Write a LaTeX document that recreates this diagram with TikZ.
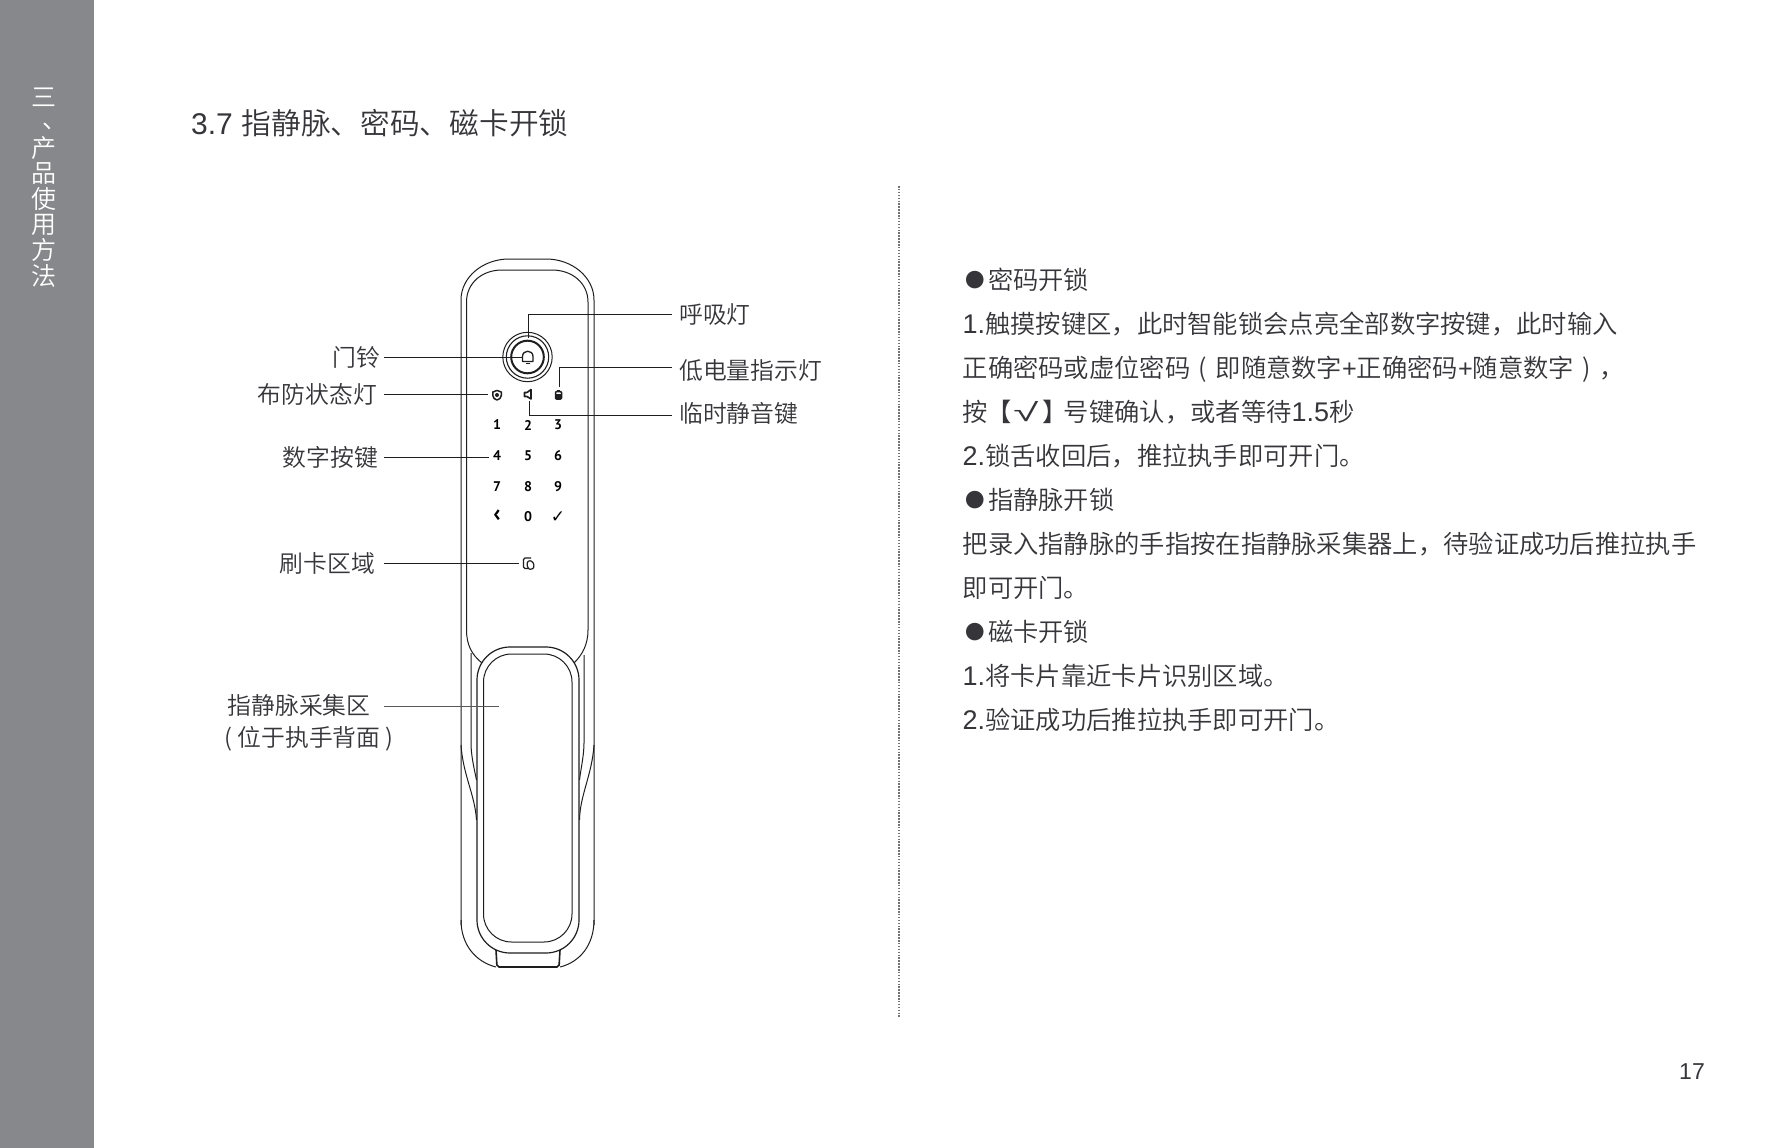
\documentclass[tikz,border=0pt]{standalone}
\usepackage{fontspec}
\setmainfont{Liberation Sans}
\newfontfamily\cjk{Noto Sans CJK SC DemiLight}
\newfontfamily\latn{Liberation Sans}
\newfontfamily\digitfont{PT Sans}
\newfontfamily\symfont{DejaVu Sans}
\newcommand{\la}[1]{{\latn\fontsize{27}{30}\selectfont #1}}
\newcommand{\bul}{\makebox[25.3pt][c]{\raisebox{2.4pt}{\fontsize{19.5}{20}\selectfont ●}}}
\newcommand{\lpar}{\makebox[25.3pt][c]{(}}
\newcommand{\rpar}{\makebox[25.3pt][c]{)}}
\definecolor{ink}{HTML}{36363A}
\definecolor{side}{HTML}{87888B}
\definecolor{linec}{HTML}{1E1E20}
\tikzset{
  lbl/.style={font=\cjk\fontsize{23.8}{28}\selectfont,text=ink,inner sep=0pt,text height=21pt,text depth=2.9pt},
  bodytxt/.style={font=\cjk\fontsize{25.3}{30}\selectfont,text=ink,inner sep=0pt,anchor=west,text height=22.3pt,text depth=3pt},
  lead/.style={draw=linec,line width=0.9pt},
  shell/.style={draw=linec,line width=1pt},
  digitk/.style={font=\digitfont\bfseries\fontsize{14}{15}\selectfont,text=black,inner sep=0pt},
  icon/.style={draw=linec,line width=1.3pt,line join=round}
}
\begin{document}
\begin{tikzpicture}[x=1pt,y=-1pt]
\useasboundingbox (0,0) rectangle (1785,1148);
\fill[white] (0,0) rectangle (1785,1148);
\fill[side] (0,0) rectangle (93.5,1148);
% sidebar
\node[font=\cjk\fontsize{25}{22}\selectfont,text=white,inner sep=0pt,align=center] (sideA) at (44,109) {三\\\hspace*{22pt}、};
\node[font=\cjk\fontsize{25}{25.6}\selectfont,text=white,inner sep=0pt,align=center,anchor=north] (sideC) at (44,136) {产\\品\\使\\用\\方\\法};
% title
\node[font=\cjk\fontsize{29.7}{32}\selectfont,text=ink,inner sep=0pt,anchor=west] (title) at (191,123) {{\latn\fontsize{30}{32}\selectfont 3.7 }\kern0.5pt 指静脉、密码、磁卡开锁};
% divider
\coordinate (divT) at (899,186);
\coordinate (divB) at (899,1018);
\draw[draw=black!55,line width=1.4pt,dash pattern=on 1.5pt off 1.4pt] (divT) -- (divB);
% page number
\node[font=\latn\fontsize{23}{26}\selectfont,text=ink,inner sep=0pt,anchor=east] (pageno) at (1705,1072) {17};
% right text
\node[bodytxt] (t1) at (962.5,280) {\bul 密码开锁};
\node[bodytxt] (t2) at (962.5,324) {\la{1.}触摸按键区，此时智能锁会点亮全部数字按键，此时输入};
\node[bodytxt] (t3) at (962.5,368) {正确密码或虚位密码\lpar 即随意数字{\latn +}正确密码{\latn +}随意数字\rpar ，};
\node[bodytxt] (t4) at (962.5,412) {按\kern-2pt 【\kern2pt\makebox[25.3pt][c]{\scalebox{1.8}[1]{\latn √}}\kern4pt】\kern-4pt 号键确认，或者等待\la{1.5}秒};
\node[bodytxt] (t5) at (962.5,456) {\la{2.}锁舌收回后，推拉执手即可开门。};
\node[bodytxt] (t6) at (962.5,500) {\bul 指静脉开锁};
\node[bodytxt] (t7) at (962.5,544) {把录入指静脉的手指按在指静脉采集器上，待验证成功后推拉执手};
\node[bodytxt] (t8) at (962.5,588) {即可开门。};
\node[bodytxt] (t9) at (962.5,632) {\bul 磁卡开锁};
\node[bodytxt] (t10) at (962.5,676) {\la{1.}将卡片靠近卡片识别区域。};
\node[bodytxt] (t11) at (962.5,720) {\la{2.}验证成功后推拉执手即可开门。};
% lock body
\draw[shell] (461,925) -- (461,300) .. controls (461,277) and (483,259) .. (509,259) -- (546,259) .. controls (572,259) and (594,277) .. (594,300) -- (594,925);
\draw[shell] (461,920) .. controls (461,945) and (476,962) .. (496,967);
\draw[shell] (594,920) .. controls (594,945) and (580,962) .. (560,967);
\draw[shell] (466.5,630) -- (466.5,302) .. controls (466.5,283) and (482,270) .. (502,270) -- (552,270) .. controls (572,270) and (588,283) .. (588,302) -- (588,630);
\draw[shell] (466.5,630) .. controls (466.5,645) and (472,655) .. (482,663);
\draw[shell] (588,630) .. controls (588,645) and (582,655) .. (574,663);
\draw[shell] (471,653) -- (471,743) .. controls (471,755) and (474,768) .. (476.5,780);
\draw[shell] (584,655) -- (584,743) .. controls (584,755) and (581,768) .. (579.5,780);
\draw[shell] (461,745) .. controls (463,775) and (475,795) .. (476.5,820);
\draw[shell] (594,745) .. controls (592,775) and (580,795) .. (579.5,820);
% tab
\draw[draw=linec,line width=1.6pt,rounded corners=2pt] (496,950) -- (497,967) -- (559,967) -- (560,950);
% handle
\draw[draw=linec,line width=1.2pt,fill=white,rounded corners=33pt] (477,647) rectangle (579,953);
\draw[shell,rounded corners=28pt] (483.5,654) rectangle (572,942);
% bell button
\coordinate (bellC) at (527.5,357);
\draw[shell] (bellC) circle (24.7);
\draw[draw=linec,line width=1.1pt] (bellC) circle (21.2);
\draw[draw=linec,line width=2pt] (bellC) circle (16.3);
\draw[icon] (522.5,361.5) -- (522.5,356.5) .. controls (522.5,349.5) and (533,349.5) .. (533,356.5) -- (533,361.5) -- cycle;
\draw[icon,line width=1pt] (526,363) -- (529.5,363);
% status icons
\draw[icon,line width=1.5pt] (497,390.5) -- (501.3,392) -- (501.3,395.5) .. controls (501.3,398) and (499,399.5) .. (497,400) .. controls (495,399.5) and (492.8,398) .. (492.8,395.5) -- (492.8,392) -- cycle;
\fill[linec] (497,395) circle (2);
\draw[icon,line width=1.6pt] (524.5,392.5) -- (527,392.5) -- (531,389.5) -- (531,399) -- (527,396.5) -- (524.5,396.5) -- cycle;
\draw[icon,rounded corners=1pt,line width=1.5pt] (555.5,391.5) -- (561.5,391.5) -- (561.5,399) -- (555.5,399) -- cycle;
\fill[linec] (556,393.8) rectangle (561,398.5);
\fill[linec] (556.8,389.7) rectangle (560.2,391.5);
% keypad
\foreach \t/\x/\y in {1/497/425,2/528/425,3/558/425,4/497/456,5/528/456,6/558/456,7/497/487,8/528/487,9/558/487,0/528/517}
  \node[digitk] (key\t) at (\x,\y) {\t};
\node[digitk,font=\digitfont\bfseries\fontsize{24}{24}\selectfont] (keyB) at (497,516) {‹};
\node[font=\symfont\bfseries\fontsize{17}{18}\selectfont,text=black,inner sep=0pt] (keyOK) at (558,517) {✓};
% card icon
\draw[icon,rounded corners=1.5pt] (531,558) -- (523.5,558) -- (523.5,568.5) -- (528,568.5);
\draw[icon,line width=1.2pt,rounded corners=1pt,fill=white] (527.5,561.5) -- (531,560.5) -- (534,564) -- (533.5,568.5) -- (529,569.5) -- (527,565.5) -- cycle;
% labels
\coordinate (colL) at (384,0);
\coordinate (colR) at (672,0);
\node[lbl,anchor=east] (lBell) at (380,357) {门铃};
\node[lbl,anchor=east] (lArm) at (377,394) {布防状态灯};
\node[lbl,anchor=east] (lKeys) at (378,457) {数字按键};
\node[lbl,anchor=east] (lCard) at (375,563) {刷卡区域};
\node[lbl,anchor=center] (lVein) at (299,705) {指静脉采集区};
\node[lbl,anchor=center] (lVein2) at (309,737.5) {( 位于执手背面 )};
\node[lbl,anchor=west] (lBreath) at (679,314) {呼吸灯};
\node[lbl,anchor=west] (lBatt) at (679,370) {低电量指示灯};
\node[lbl,anchor=west] (lMute) at (679,413) {临时静音键};
% leaders
\coordinate (pBell) at (522,357);
\coordinate (pArm) at (488,394);
\coordinate (pKeys) at (489,457);
\coordinate (pCard) at (519,563);
\coordinate (pVein) at (499,706);
\coordinate (pBreath) at (528,338);
\coordinate (pBatt) at (559,387);
\coordinate (pMute) at (529,401);
\draw[lead] (lBell.east -| colL) -- (pBell);
\draw[lead] (lArm.east -| colL) -- (pArm);
\draw[lead] (lKeys.east -| colL) -- (pKeys);
\draw[lead] (lCard.east -| colL) -- (pCard);
\draw[lead,draw=gray!70!black] (colL |- pVein) -- (pVein);
\draw[lead] (pBreath) |- (lBreath.west -| colR);
\draw[lead] (pBatt) |- ([yshift=3pt]lBatt.west -| colR);
\draw[lead] (pMute) |- ([yshift=-2pt]lMute.west -| colR);
\end{tikzpicture}
\end{document}
